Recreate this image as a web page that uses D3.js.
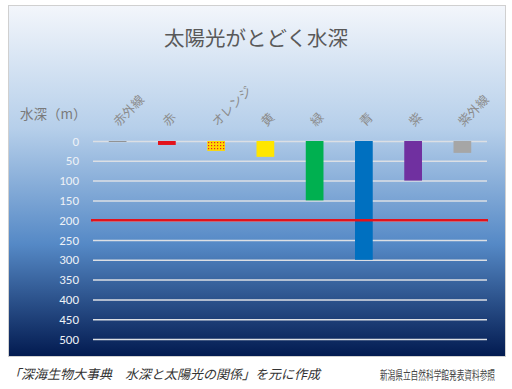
<!DOCTYPE html>
<html>
<head>
<meta charset="utf-8">
<script src="https://cdn.jsdelivr.net/npm/d3@7"></script>
<style>
  body { margin: 0; background: #fff; }
  svg { display: block; font-family: "Noto Sans CJK JP", "Noto Sans", sans-serif; }
</style>
</head>
<body>
<div id="chart"></div>
<script>
// categories (light colours) and the depth (m) each one reaches
const categories = ["赤外線", "赤", "オレンジ", "黄", "緑", "青", "紫", "紫外線"];
const depths = [2, 10, 25, 40, 150, 300, 100, 30];
const barColors = ["#7f7f7f", "#e3121b", "url(#dots)", "#ffe600", "#00b050", "#0070c0", "#7030a0", "#a6a6a6"];
const yTicks = [0, 50, 100, 150, 200, 250, 300, 350, 400, 450, 500];
const markDepth = 200;

const width = 512, height = 389;
const margin = { top: 141, right: 25, bottom: 50, left: 93 };

const svg = d3.select("#chart").append("svg")
  .attr("width", width)
  .attr("height", height);

const defs = svg.append("defs");
const grad = defs.append("linearGradient")
  .attr("id", "bg")
  .attr("x1", 0).attr("y1", 0).attr("x2", 0).attr("y2", 1);
grad.append("stop").attr("offset", "0%").attr("stop-color", "#f3f6fb");
grad.append("stop").attr("offset", "35%").attr("stop-color", "#b6cfea");
grad.append("stop").attr("offset", "68%").attr("stop-color", "#5589c6");
grad.append("stop").attr("offset", "100%").attr("stop-color", "#021a50");

// dotted fill for the orange bar
const pat = defs.append("pattern")
  .attr("id", "dots")
  .attr("patternUnits", "userSpaceOnUse")
  .attr("width", 3).attr("height", 3);
pat.append("rect").attr("width", 3).attr("height", 3).attr("fill", "#ffd800");
pat.append("rect").attr("x", 1).attr("y", 1).attr("width", 1.2).attr("height", 1.2).attr("fill", "#e8202a");

// panel
svg.append("rect")
  .attr("x", 8.5).attr("y", 5.5)
  .attr("width", 497).attr("height", 351)
  .attr("fill", "url(#bg)")
  .attr("stroke", "#d0d0d0");

const x = d3.scaleBand()
  .domain(categories)
  .range([margin.left, width - margin.right])
  .paddingInner(0.64)
  .paddingOuter(0.32);

const y = d3.scaleLinear()
  .domain([0, 500])
  .range([margin.top, height - margin.bottom]);

// gridlines + tick labels
const yAxis = svg.append("g")
  .attr("transform", `translate(${margin.left},0)`)
  .call(d3.axisLeft(y).tickValues(yTicks).tickSize(-(width - margin.right - margin.left)).tickPadding(14));
yAxis.select(".domain").remove();
yAxis.selectAll(".tick line").attr("stroke", "#dcdfe4").attr("stroke-width", 1.5);
yAxis.selectAll(".tick text")
  .attr("fill", "#eef2f7")
  .attr("font-size", 13)
  .attr("font-family", "Calibri, Carlito, 'Liberation Sans', sans-serif");

// bars
svg.append("g").selectAll("rect")
  .data(categories)
  .join("rect")
  .attr("x", d => x(d))
  .attr("y", y(0))
  .attr("width", x.bandwidth())
  .attr("height", (d, i) => y(depths[i]) - y(0))
  .attr("fill", (d, i) => barColors[i]);

// 200 m line
svg.append("line")
  .attr("x1", margin.left - 2).attr("x2", width - margin.right + 1)
  .attr("y1", y(markDepth)).attr("y2", y(markDepth))
  .attr("stroke", "#e3121b")
  .attr("stroke-width", 2.5);

// category labels on top, rotated
svg.append("g").selectAll("text")
  .data(categories)
  .join("text")
  .attr("transform", d => `translate(${x(d) + x.bandwidth() / 2 + 1},127) rotate(-45)`)
  .attr("fill", "#8c8c8c")
  .attr("font-size", 12.5)
  .text(d => d);

// title
svg.append("text")
  .attr("x", width / 2)
  .attr("y", 46)
  .attr("text-anchor", "middle")
  .attr("fill", "#595959")
  .attr("font-size", 20.5)
  .text("太陽光がとどく水深");

// y axis label
svg.append("text")
  .attr("x", 20)
  .attr("y", 119)
  .attr("fill", "#7a7a7a")
  .attr("font-size", 13.5)
  .text("水深（m）");

// footer notes
svg.append("text")
  .attr("x", 8)
  .attr("y", 379)
  .attr("fill", "#333")
  .attr("font-size", 13)
  .attr("font-style", "italic")
  .text("「深海生物大事典　水深と太陽光の関係」を元に作成");

// condensed source note
svg.append("text")
  .attr("transform", "translate(495,380) scale(0.64,1)")
  .attr("text-anchor", "end")
  .attr("fill", "#444")
  .attr("font-size", 12)
  .text("新潟県立自然科学館発表資料参照");
</script>
</body>
</html>
